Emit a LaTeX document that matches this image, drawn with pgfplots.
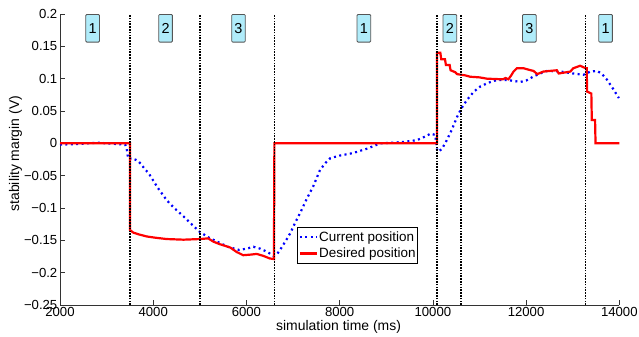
\documentclass[border=0pt]{standalone}
\usepackage{fontspec}
\setmainfont{Liberation Sans}
\usepackage{pgfplots}
\pgfplotsset{compat=1.18}
\definecolor{boxfill}{RGB}{176,236,250}
\definecolor{boxdraw}{RGB}{85,85,85}
\begin{document}
\begin{tikzpicture}
\begin{axis}[
  at={(60bp,32bp)}, anchor=south west,
  scale only axis, width=559.3bp, height=291bp,
  xmin=2000, xmax=14000, ymin=-0.25, ymax=0.2,
  axis lines*=left,
  axis line style={black!80, line width=0.6bp},
  tick align=inside, major tick length=5bp,
  tick style={black!80, line width=0.6bp},
  scaled x ticks=false, scaled y ticks=false,
  xtick={2000,4000,6000,8000,10000,12000,14000},
  xticklabels={2000,4000,6000,8000,10000,12000,14000},
  ytick={-0.25,-0.2,-0.15,-0.1,-0.05,0,0.05,0.1,0.15,0.2},
  yticklabels={−0.25,−0.2,−0.15,−0.1,−0.05,0,0.05,0.1,0.15,0.2},
  ticklabel style={font=\fontsize{13.2}{15}\selectfont},
  xticklabel style={inner sep=2.5bp},
  yticklabel style={inner sep=2.5bp},
  /pgf/number format/assume math mode=true,
  xlabel={simulation time (ms)},
  xlabel style={at={(axis description cs:0.498,-0.0893)}, anchor=base, font=\fontsize{14}{16}\selectfont},
  ylabel={stability margin (V)},
  ylabel style={at={(axis description cs:-0.0733,0.52)}, anchor=base, font=\fontsize{14}{16}\selectfont},
  legend style={at={(axis description cs:0.4243,0.267)}, anchor=north west,
    draw=black, line width=0.8bp, fill=white, inner xsep=1bp, inner ysep=2bp,
    font=\fontsize{13.5}{15}\selectfont, row sep=1bp,
    nodes={inner xsep=1.2bp, inner ysep=2bp}},
  legend cell align=left,
  legend image code/.code={\draw[#1] (0bp,0bp) -- (17bp,0bp);},
  clip=false,
]
% Current position
\addplot[blue, line width=2.2bp, dash pattern=on 2bp off 3.4bp, line cap=butt] coordinates {
(2000,-0.002) (2400,-0.001) (2800,0.001) (3200,-0.001) (3400,-0.002) (3430,-0.008)
(3450,-0.018) (3470,-0.024) (3550,-0.023) (3670,-0.027) (3750,-0.033) (3820,-0.040)
(3900,-0.046) (3970,-0.054) (4030,-0.061) (4100,-0.069) (4290,-0.088) (4450,-0.100)
(4650,-0.113) (4850,-0.127) (5000,-0.137) (5200,-0.146) (5400,-0.153) (5600,-0.160)
(5850,-0.165) (6050,-0.162) (6150,-0.160) (6300,-0.163) (6450,-0.168) (6580,-0.174)
(6650,-0.172) (6720,-0.165) (6850,-0.150) (6940,-0.139) (7050,-0.122) (7150,-0.108)
(7300,-0.085) (7430,-0.067) (7580,-0.041) (7700,-0.030) (7800,-0.023) (8000,-0.019)
(8290,-0.015) (8600,-0.008) (8870,0.000) (9360,0.002) (9660,0.005) (9850,0.011)
(9950,0.015) (10050,0.013) (10090,-0.010) (10120,-0.013) (10200,-0.008) (10300,0.005)
(10400,0.020) (10520,0.041) (10620,0.055) (10730,0.067) (10880,0.080) (11020,0.088)
(11200,0.094) (11380,0.098) (11590,0.098) (11880,0.095) (12000,0.097) (12150,0.103)
(12300,0.108) (12450,0.112) (12740,0.111) (13010,0.108) (13230,0.106) (13320,0.109)
(13380,0.111) (13520,0.112) (13620,0.108) (13740,0.098) (13860,0.085) (13990,0.070)
};
\addlegendentry{Current position}
% Desired position
\addplot[red, line width=2.2bp] coordinates {
(2000,0) (3500,0) (3500,-0.134) (3570,-0.138) (3700,-0.141) (3860,-0.144) (4050,-0.146)
(4290,-0.148) (4650,-0.149) (5000,-0.148) (5180,-0.147) (5290,-0.152) (5430,-0.156)
(5650,-0.161) (5790,-0.168) (5930,-0.173) (6100,-0.172) (6220,-0.171) (6360,-0.174)
(6500,-0.178) (6590,-0.179) (6600,0) (10090,0) (10090,0.14) (10160,0.14) (10180,0.13)
(10260,0.13) (10280,0.121) (10360,0.121) (10380,0.113) (10480,0.110) (10520,0.107)
(10700,0.105) (10800,0.103) (11000,0.102) (11160,0.100) (11500,0.099) (11560,0.101)
(11620,0.099) (11680,0.105) (11730,0.111) (11800,0.116) (11950,0.116) (12100,0.113)
(12160,0.112) (12240,0.107) (12370,0.111) (12660,0.113) (12700,0.108) (12950,0.111)
(13010,0.116) (13160,0.120) (13280,0.116) (13300,0.116) (13310,0.080) (13400,0.077)
(13410,0.036) (13480,0.036) (13490,0) (14000,0)
};
\addlegendentry{Desired position}
% phase boundaries
\addplot[black, line width=1.5bp, dash pattern=on 1.6bp off 1.2bp, forget plot] coordinates {(3500,-0.25) (3500,0.2)};
\addplot[black, line width=1.5bp, dash pattern=on 1.6bp off 1.2bp, forget plot] coordinates {(5000,-0.25) (5000,0.2)};
\addplot[black, line width=1.5bp, dash pattern=on 1.6bp off 1.2bp, forget plot] coordinates {(6600,-0.25) (6600,0.2)};
\addplot[black, line width=1.5bp, dash pattern=on 1.6bp off 1.2bp, forget plot] coordinates {(10090,-0.25) (10090,0.2)};
\addplot[black, line width=1.5bp, dash pattern=on 1.6bp off 1.2bp, forget plot] coordinates {(10600,-0.25) (10600,0.2)};
\addplot[black, line width=1.5bp, dash pattern=on 1.6bp off 1.2bp, forget plot] coordinates {(13280,-0.25) (13280,0.2)};
% phase labels
\tikzset{phase/.style={draw=boxdraw, fill=boxfill, line width=0.8bp, rounded corners=1bp,
  minimum width=13.6bp, minimum height=27.7bp, inner sep=0.5bp, anchor=north,
  font=\fontsize{14.5}{16}\selectfont}}
\node[phase] at (axis cs:2700,0.2) {1};
\node[phase] at (axis cs:4265,0.2) {2};
\node[phase] at (axis cs:5830,0.2) {3};
\node[phase] at (axis cs:8520,0.2) {1};
\node[phase] at (axis cs:10365,0.2) {2};
\node[phase] at (axis cs:12070,0.2) {3};
\node[phase] at (axis cs:13705,0.2) {1};
\end{axis}
\pgfresetboundingbox
\path (0,0) rectangle (639bp,337bp);
\end{tikzpicture}
\end{document}
